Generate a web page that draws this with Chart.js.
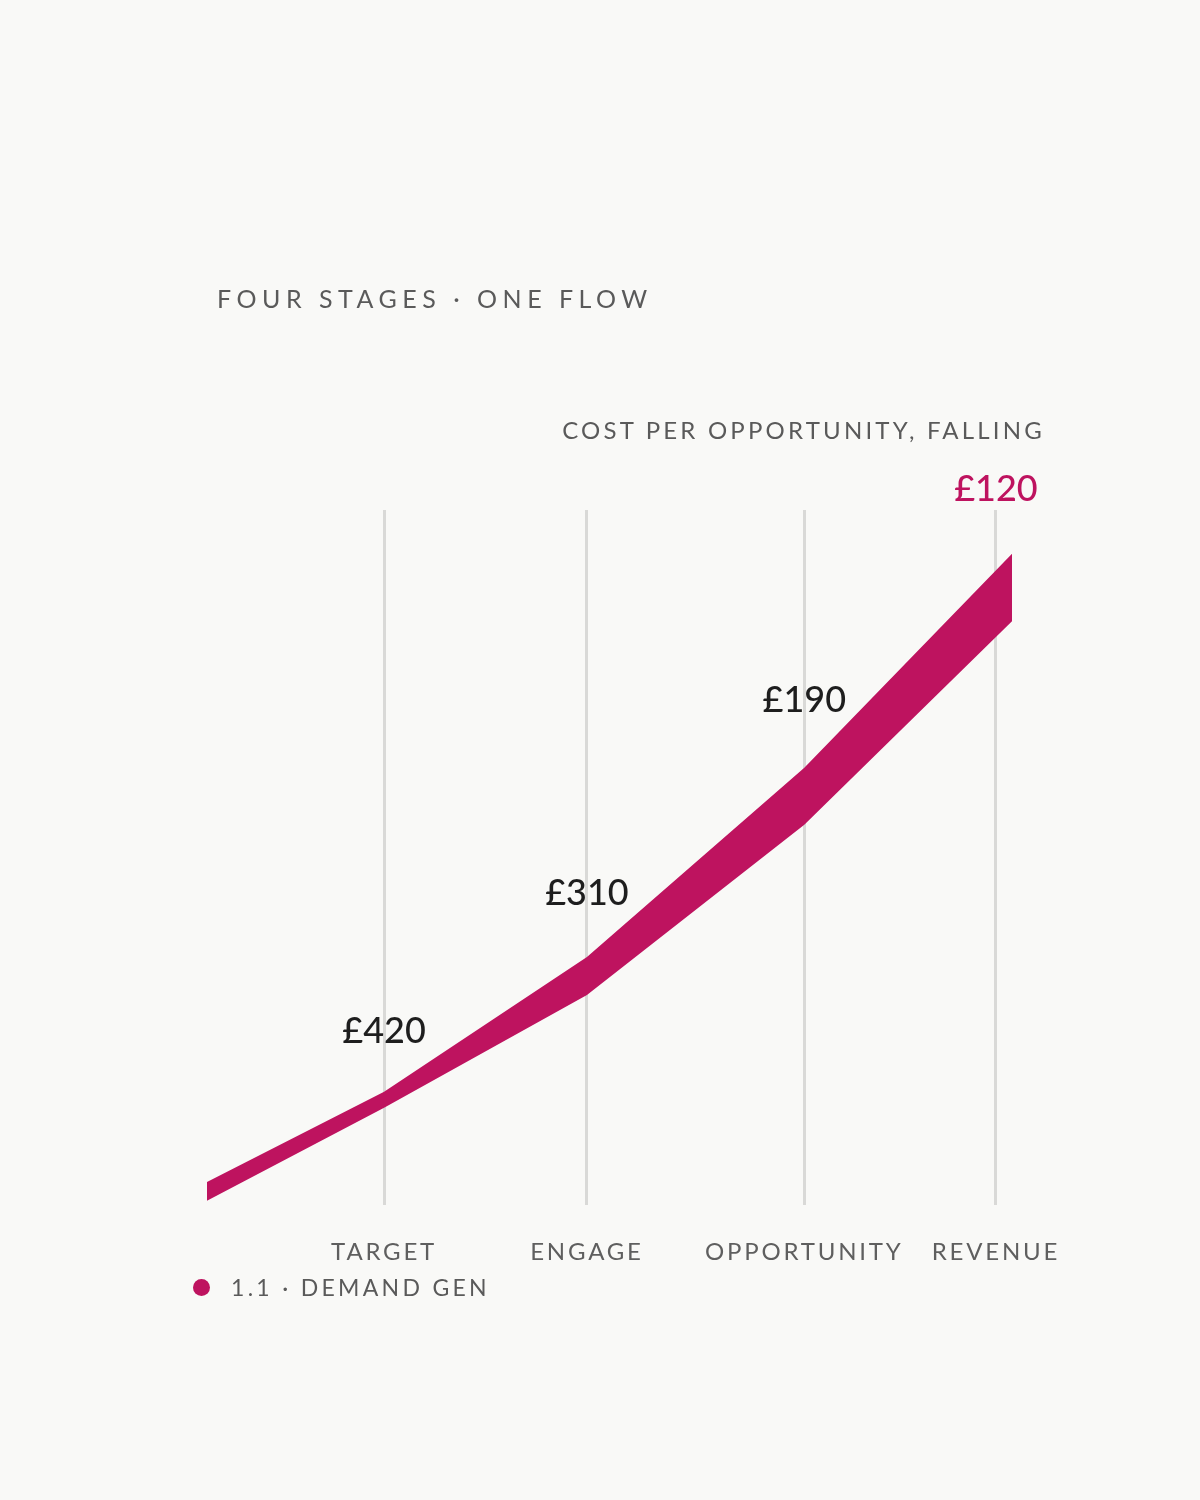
<!DOCTYPE html>
<html>
<head>
<meta charset="utf-8">
<script src="https://cdn.jsdelivr.net/npm/chart.js@4/dist/chart.umd.min.js"></script>
<style>
  html,body{margin:0;padding:0;background:#f9f9f7;}
  #wrap{position:relative;width:1200px;height:1500px;overflow:hidden;background:#f9f9f7;font-family:Lato,"Noto Sans",sans-serif;}
  #c{position:absolute;left:0;top:0;}
  .t{position:absolute;white-space:nowrap;color:#5a5a5a;line-height:1;}
  #title{left:217px;top:286px;font-size:25px;letter-spacing:5.5px;}
  #sub{right:155px;top:418px;font-size:24px;letter-spacing:3.2px;}
  #legend{left:193px;top:1276px;font-size:23px;letter-spacing:3.3px;display:flex;align-items:center;}
  #legend .dot{width:17px;height:17px;border-radius:50%;background:#be135f;margin-right:21px;}
</style>
</head>
<body>
<div id="wrap">
  <canvas id="c" width="1200" height="1500"></canvas>
  <div class="t" id="title">FOUR STAGES · ONE FLOW</div>
  <div class="t" id="sub">COST PER OPPORTUNITY, FALLING</div>
  <div class="t" id="legend"><span class="dot"></span><span>1.1 · DEMAND GEN</span></div>
</div>
<script>
// ---- data ----
const stages = ['TARGET', 'ENGAGE', 'OPPORTUNITY', 'REVENUE'];
const stageCosts = ['£420', '£310', '£190', '£120'];
const stagePos = [22.0, 47.2, 74.2, 98.0];
const bandX = [0, 22.0, 47.2, 74.2, 100];
const bandUpper = [3.3, 16.3, 35.7, 62.9, 93.7];
const bandLower = [0.6, 14.0, 30.2, 54.7, 84.0];

const MAGENTA = '#be135f';

function interp(xs, ys, x) {
  for (let i = 0; i < xs.length - 1; i++) {
    if (x >= xs[i] && x <= xs[i + 1]) {
      const t = (x - xs[i]) / (xs[i + 1] - xs[i]);
      return ys[i] + t * (ys[i + 1] - ys[i]);
    }
  }
  return ys[ys.length - 1];
}

const spacingPlugin = {
  id: 'spacing',
  beforeDraw(chart) { chart.ctx.letterSpacing = '2.8px'; },
  afterDraw(chart) { chart.ctx.letterSpacing = '0px'; }
};

const costLabels = {
  id: 'costLabels',
  afterDatasetsDraw(chart) {
    const ctx = chart.ctx;
    const xs = chart.scales.x, ys = chart.scales.y;
    ctx.save();
    ctx.letterSpacing = '0px';
    ctx.font = '500 36px Lato, "Noto Sans", sans-serif';
    ctx.textAlign = 'center';
    ctx.textBaseline = 'middle';
    stageCosts.forEach((lab, i) => {
      const px = xs.getPixelForValue(stagePos[i]);
      let py;
      if (i === stageCosts.length - 1) {
        py = chart.chartArea.top - 21;
        ctx.fillStyle = MAGENTA;
      } else {
        const top = ys.getPixelForValue(interp(bandX, bandUpper, stagePos[i]));
        const bot = ys.getPixelForValue(interp(bandX, bandLower, stagePos[i]));
        py = top - 57 - 0.18 * (bot - top);
        ctx.fillStyle = '#1e1e1e';
      }
      ctx.fillText(lab, px, py);
    });
    ctx.restore();
  }
};

const toPts = (ys) => bandX.map((x, i) => ({ x: x, y: ys[i] }));

new Chart(document.getElementById('c'), {
  type: 'line',
  data: {
    datasets: [
      { label: 'lower', data: toPts(bandLower), borderWidth: 0, pointRadius: 0, fill: false, tension: 0 },
      { label: '1.1 · DEMAND GEN', data: toPts(bandUpper), borderWidth: 0, pointRadius: 0,
        fill: '-1', backgroundColor: MAGENTA, borderColor: MAGENTA, tension: 0 }
    ]
  },
  options: {
    responsive: false,
    animation: false,
    devicePixelRatio: 1,
    layout: { padding: { left: 207, right: 188, top: 510, bottom: 0 } },
    plugins: { legend: { display: false }, tooltip: { enabled: false } },
    scales: {
      x: {
        type: 'linear', min: 0, max: 100,
        afterBuildTicks(scale) { scale.ticks = stagePos.map(v => ({ value: v })); },
        afterFit(scale) { scale.height = 1500 - 1205; },
        grid: { color: '#d9d9d7', lineWidth: 3, drawTicks: false },
        border: { display: false },
        ticks: {
          autoSkip: false, maxRotation: 0, padding: 33,
          color: '#5f5f5f',
          font: { family: 'Lato, "Noto Sans", sans-serif', size: 24 },
          callback(v) { const i = stagePos.indexOf(v); return i >= 0 ? stages[i] : ''; }
        }
      },
      y: { type: 'linear', min: 0, max: 100, display: false }
    }
  },
  plugins: [spacingPlugin, costLabels]
});
</script>
</body>
</html>
